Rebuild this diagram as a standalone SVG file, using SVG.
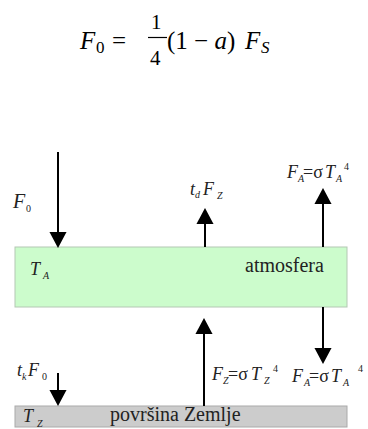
<svg xmlns="http://www.w3.org/2000/svg" width="368" height="429" viewBox="0 0 368 429" font-family="'Times New Roman', 'Liberation Serif', serif">
<defs>
<marker id="ah" markerUnits="userSpaceOnUse" markerWidth="16" markerHeight="18" viewBox="0 -8 15 16" refX="0" refY="0" orient="auto">
<path d="M0,-8 L15,0 L0,8 z" fill="#000"/>
</marker>
</defs>

<g id="equation" fill="#000">
<text font-family="Times New Roman" x="80" y="49" font-size="25" font-style="italic">F</text>
<text font-family="Times New Roman" x="96" y="53" font-size="17">0</text>
<text font-family="Times New Roman" x="112" y="49" font-size="25">=</text>
<text font-family="Times New Roman" x="151" y="29" font-size="21">1</text>
<line x1="148" y1="37.5" x2="167" y2="37.5" stroke="#000" stroke-width="1.2"/>
<text font-family="Times New Roman" x="150" y="65" font-size="21">4</text>
<text font-family="Times New Roman" x="167" y="49" font-size="25">(1 &#x2212; <tspan font-style="italic">a</tspan>)</text>
<text font-family="Times New Roman" x="245" y="49" font-size="25" font-style="italic">F</text>
<text font-family="Times New Roman" x="261" y="53" font-size="17" font-style="italic">S</text>
</g>

<g id="atmosfera" fill="#222">
<rect x="15" y="247" width="332" height="60" fill="#ccfccc" stroke="#b4c8b4" stroke-width="1"/>
<text font-family="Times New Roman" x="30" y="275" font-size="18" font-style="italic">T</text>
<text font-family="Times New Roman" x="43" y="279" font-size="10" font-style="italic">A</text>
<text font-family="Times New Roman" x="245" y="272" font-size="20">atmosfera</text>
</g>

<g id="zemlja" fill="#222">
<rect x="15" y="406" width="332" height="21" fill="#cccccc" stroke="#aaaaaa" stroke-width="1"/>
<text font-family="Times New Roman" x="23" y="422" font-size="18" font-style="italic">T</text>
<text font-family="Times New Roman" x="37" y="427" font-size="10" font-style="italic">Z</text>
<text font-family="Times New Roman" x="110" y="421" font-size="20">pov&#x72;&#x161;ina Zemlje</text>
</g>

<g id="connectors" stroke="#000" stroke-width="2" fill="none" marker-end="url(#ah)">
<line x1="58" y1="152" x2="58" y2="232"/>
<line x1="205" y1="247" x2="205" y2="224"/>
<line x1="323" y1="247" x2="323" y2="204"/>
<line x1="323" y1="307" x2="323" y2="348"/>
<line x1="204" y1="406" x2="204" y2="334"/>
<line x1="58" y1="373" x2="58" y2="390"/>
</g>

<g id="labels" fill="#222" font-size="18">
<text font-family="Times New Roman" x="13" y="208" font-size="20" font-style="italic">F</text>
<text font-family="Times New Roman" x="26" y="212" font-size="10">0</text>

<text font-family="Times New Roman" x="190" y="195" font-style="italic">t</text>
<text font-family="Times New Roman" x="195" y="198" font-size="10" font-style="italic">d</text>
<text font-family="Times New Roman" x="203" y="195" font-style="italic">F</text>
<text font-family="Times New Roman" x="217" y="199" font-size="10" font-style="italic">Z</text>

<text font-family="Times New Roman" x="287" y="178" font-style="italic">F</text>
<text font-family="Times New Roman" x="298" y="182" font-size="10" font-style="italic">A</text>
<text font-family="Times New Roman" x="303" y="178">=&#x3C3;</text>
<text font-family="Times New Roman" x="325" y="178" font-style="italic">T</text>
<text font-family="Times New Roman" x="336" y="182" font-size="10" font-style="italic">A</text>
<text font-family="Times New Roman" x="344" y="170" font-size="10">4</text>

<text font-family="Times New Roman" x="212" y="380" font-style="italic">F</text>
<text font-family="Times New Roman" x="223" y="384" font-size="10" font-style="italic">Z</text>
<text font-family="Times New Roman" x="228" y="380">=&#x3C3;</text>
<text font-family="Times New Roman" x="251" y="380" font-style="italic">T</text>
<text font-family="Times New Roman" x="264" y="384" font-size="10" font-style="italic">Z</text>
<text font-family="Times New Roman" x="273" y="372" font-size="10">4</text>

<text font-family="Times New Roman" x="292" y="382" font-style="italic">F</text>
<text font-family="Times New Roman" x="304" y="386" font-size="10" font-style="italic">A</text>
<text font-family="Times New Roman" x="309" y="382">=&#x3C3;</text>
<text font-family="Times New Roman" x="331" y="382" font-style="italic">T</text>
<text font-family="Times New Roman" x="343" y="386" font-size="10" font-style="italic">A</text>
<text font-family="Times New Roman" x="358" y="372" font-size="10">4</text>

<text font-family="Times New Roman" x="17" y="376" font-style="italic">t</text>
<text font-family="Times New Roman" x="22" y="380" font-size="10" font-style="italic">k</text>
<text font-family="Times New Roman" x="28" y="376" font-style="italic">F</text>
<text font-family="Times New Roman" x="42" y="380" font-size="10">0</text>
</g>
</svg>
